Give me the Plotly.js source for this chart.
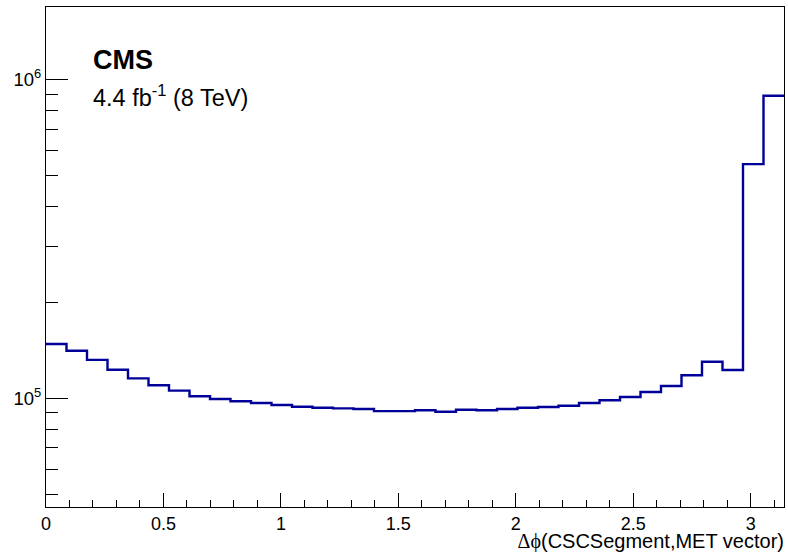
<!DOCTYPE html>
<html>
<head>
<meta charset="utf-8">
<script src="https://cdn.plot.ly/plotly-3.0.1.min.js"></script>
<style>html,body{margin:0;padding:0;background:#fff;}#chart{width:788px;height:552px;}</style>
</head>
<body>
<div id="chart"></div>
<script>
// Histogram: 36 bins of dphi in [0, pi]
const nBins = 36;
const xMin = 0;
const xMax = Math.PI;
const counts = [
  148000, 141000, 132000, 123000, 115500, 109900, 105700, 101500, 99500,
  97900, 96700, 95300, 94100, 93400, 93000, 92600, 91200, 91200,
  91700, 90800, 92100, 91700, 92600, 93400, 93900, 94800, 96700,
  98600, 101000, 104700, 109300, 118100, 130300, 122700, 543000, 890000
];
const xTickVals = [0, 0.5, 1, 1.5, 2, 2.5, 3];
const xTickText = ['0', '0.5', '1', '1.5', '2', '2.5', '3'];
const yTickVals = [1e5, 1e6];
const yTickText = ['10<sup>5</sup>', '10<sup>6</sup>'];
const yMinorVals = [5e4, 6e4, 7e4, 8e4, 9e4, 2e5, 3e5, 4e5, 5e5, 6e5, 7e5, 8e5, 9e5];
const xTitle = '<span style="font-family:\'Liberation Serif\'">Δϕ</span>(CSCSegment,MET vector)';
const cmsLabel = '<b>CMS</b>';
const lumiLabel = '4.4 fb<sup>-1</sup> (8 TeV)';

// build step outline from bin edges
const w = (xMax - xMin) / nBins;
const edges = [];
for (let i = 0; i <= nBins; i++) edges.push(xMin + i * w);
const ySteps = counts.concat([counts[counts.length - 1]]);

const font = {family: 'Liberation Sans, Arial, sans-serif', color: '#000'};

const trace = {
  type: 'scatter', mode: 'lines',
  x: edges, y: ySteps,
  line: {shape: 'hv', color: '#000099', width: 2.4},
  hoverinfo: 'skip', showlegend: false
};

const layout = {
  width: 788, height: 552,
  margin: {l: 46, r: 4, t: 7, b: 45},
  paper_bgcolor: '#fff', plot_bgcolor: '#fff',
  font: Object.assign({size: 19}, font),
  xaxis: {
    range: [xMin, xMax], tickvals: xTickVals, ticktext: xTickText,
    ticks: 'inside', ticklen: 14, tickcolor: '#000', tickwidth: 1,
    minor: {dtick: 0.1, tick0: 0, ticks: 'inside', ticklen: 7, tickcolor: '#000', tickwidth: 1, showgrid: false},
    showgrid: false, zeroline: false,
    showline: true, linecolor: '#000', linewidth: 1, mirror: true,
    tickfont: Object.assign({size: 18}, font),
    title: {text: xTitle, font: Object.assign({size: 20}, font), standoff: 0}
  },
  yaxis: {
    type: 'log', range: [4.659, 6.228],
    tickvals: yTickVals, ticktext: yTickText,
    ticks: 'inside', ticklen: 22, tickcolor: '#000', tickwidth: 1,
    minor: {tickvals: yMinorVals, ticks: 'inside', ticklen: 12, tickcolor: '#000', tickwidth: 1, showgrid: false},
    showgrid: false, zeroline: false,
    showline: true, linecolor: '#000', linewidth: 1, mirror: true,
    tickfont: Object.assign({size: 18.5}, font)
  },
  annotations: [
    {text: cmsLabel, xref: 'paper', yref: 'paper', x: 0.0605, y: 0.893, xanchor: 'left', yanchor: 'middle',
     showarrow: false, font: Object.assign({size: 27}, font)},
    {text: lumiLabel, xref: 'paper', yref: 'paper', x: 0.0605, y: 0.822, xanchor: 'left', yanchor: 'middle',
     showarrow: false, font: Object.assign({size: 23.5}, font)}
  ]
};

Plotly.newPlot('chart', [trace], layout, {displayModeBar: false, staticPlot: true}).then(function () {
  // right-align the x title to the end of the axis like ROOT
  const t = document.querySelector('.xtitle');
  if (t) {
    t.setAttribute('text-anchor', 'end');
    t.setAttribute('x', 784);
    t.setAttribute('y', 548);
    t.querySelectorAll('tspan[x]').forEach(function (s) { s.setAttribute('x', 784); });
  }
});
</script>
</body>
</html>
